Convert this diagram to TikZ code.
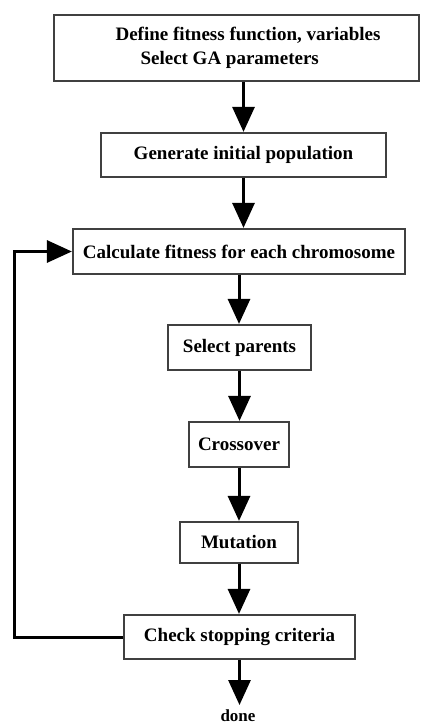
\documentclass[tikz,border=0pt]{standalone}
\usepackage{fontspec}
\setmainfont{Liberation Serif}
\usetikzlibrary{arrows.meta}
\begin{document}
\begin{tikzpicture}[x=1pt,y=-1pt,
  box/.style={draw=black!75, line width=1.2pt, fill=white, inner sep=0pt},
  txt/.style={font=\fontsize{19}{24}\selectfont\bfseries, inner sep=0pt},
  flow/.style={line width=3pt, -{Triangle[length=25pt,width=22pt]}, shorten >=0.5pt}]
\useasboundingbox (0,0) rectangle (423,725);
\fill[white] (0,0) rectangle (423,725);
\node[box, minimum width=365pt, minimum height=66pt] (b1) at (236.5,48) {};
\node[txt, align=left] (t1) at (248,48) {Define fitness function, variables\\\hspace{25pt}Select GA parameters};
\node[box, txt, minimum width=285pt, minimum height=44pt] (b2) at (243.5,155) {Generate initial population};
\node[box, txt, minimum width=332pt, minimum height=45pt] (b3) at (239,251.5) {Calculate fitness for each chromosome};
\node[box, txt, minimum width=143pt, minimum height=45pt] (b4) at (239.5,347.5) {Select parents};
\node[box, txt, minimum width=100pt, minimum height=45pt] (b5) at (239,444.5) {Crossover};
\node[box, txt, minimum width=118pt, minimum height=41pt] (b6) at (239,542.5) {Mutation};
\node[box, txt, minimum width=231pt, minimum height=44pt] (b7) at (239.5,637) {Check stopping criteria};
\node[txt, font=\fontsize{17}{20}\selectfont\bfseries, anchor=base, inner sep=4pt] (done) at (238,721.5) {done};
\coordinate (loopa) at (14,637);
\coordinate (loopb) at (14,251.5);
\draw[flow] (b2.north |- b1.south) -- (b2.north);
\draw[flow] (b2.south) -- (b2.south |- b3.north);
\draw[flow] (b3.south) -- (b3.south |- b4.north);
\draw[flow] (b4.south) -- (b4.south |- b5.north);
\draw[flow] (b5.south) -- (b5.south |- b6.north);
\draw[flow] (b6.south) -- (b6.south |- b7.north);
\draw[flow] (b7.south) -- (b7.south |- done.north);
\draw[flow, line join=miter] (b7.west) -- (loopa) -- (loopb) -- (b3.west);
\end{tikzpicture}
\end{document}
